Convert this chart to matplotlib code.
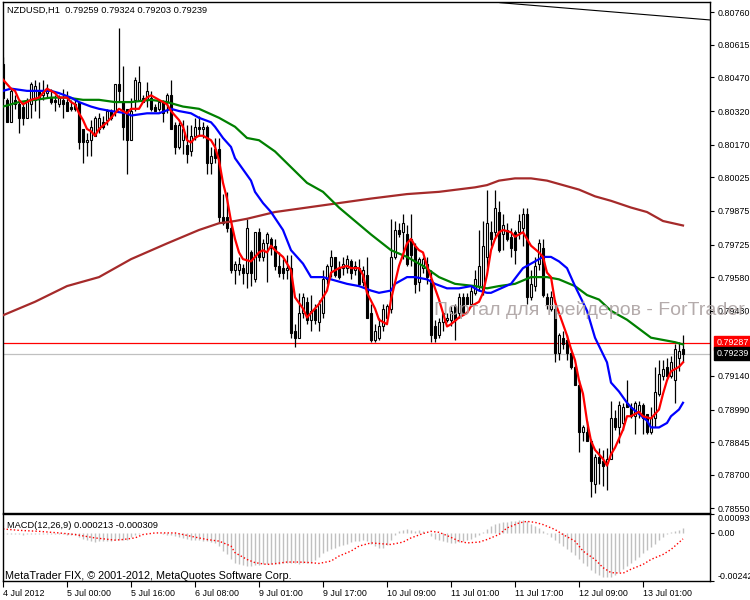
import numpy as np
import matplotlib
matplotlib.use("Agg")
import matplotlib.pyplot as plt
from matplotlib import transforms

plt.rcParams["font.family"] = ["Liberation Sans", "DejaVu Sans"]

# ---- candles (NZDUSD H1) ----
opens = [
    0.8053, 0.8037, 0.8027, 0.8037, 0.8035, 0.8034, 0.8029, 0.8035, 0.8037, 0.8041,
    0.8039, 0.8040, 0.8038, 0.8037, 0.8035, 0.8037, 0.8036, 0.8034, 0.8035, 0.8036,
    0.8024, 0.8018, 0.8019, 0.8021, 0.8024, 0.8027, 0.8028, 0.8032, 0.8032, 0.8044,
    0.8036, 0.8033, 0.8019, 0.8037, 0.8037, 0.8038, 0.8037, 0.8038, 0.8034, 0.8033,
    0.8036, 0.8036, 0.8039, 0.8026, 0.8016, 0.8019, 0.8017, 0.8014, 0.8021, 0.8025,
    0.8024, 0.8025, 0.8009, 0.8015, 0.8015, 0.7985, 0.7985, 0.7980, 0.7961, 0.7961,
    0.7962, 0.7960, 0.7969, 0.7957, 0.7978, 0.7967, 0.7973, 0.7975, 0.7972, 0.7963,
    0.7962, 0.7961, 0.7962, 0.7934, 0.7931, 0.7942, 0.7947, 0.7939, 0.7944, 0.7938,
    0.7942, 0.7957, 0.7963, 0.7967, 0.7962, 0.7962, 0.7962, 0.7965, 0.7961, 0.7962,
    0.7956, 0.7959, 0.7942, 0.7930, 0.7931, 0.7936, 0.7940, 0.7944, 0.7967, 0.7979,
    0.7978, 0.7977, 0.7975, 0.7972, 0.7956, 0.7962, 0.7964, 0.7957, 0.7936, 0.7932,
    0.7938, 0.7939, 0.7939, 0.7945, 0.7942, 0.7949, 0.7949, 0.7946, 0.7951, 0.7954,
    0.7952, 0.7967, 0.7978, 0.7978, 0.7987, 0.7977, 0.7979, 0.7976, 0.7978, 0.7978,
    0.7980, 0.7986, 0.7949, 0.7954, 0.7964, 0.7971, 0.7949, 0.7944, 0.7944, 0.7924,
    0.7931, 0.7930, 0.7924, 0.7918, 0.7910, 0.7889, 0.7889, 0.7885, 0.7866, 0.7878,
    0.7876, 0.7875, 0.7877, 0.7895, 0.7891, 0.7893, 0.7902, 0.7900, 0.7896, 0.7898,
    0.7901, 0.7897, 0.7889, 0.7895, 0.7906, 0.7914, 0.7918, 0.7914, 0.7912, 0.7922,
    0.79259,
]
highs = [
    0.8056, 0.8038, 0.8042, 0.8039, 0.8037, 0.8036, 0.8038, 0.8045, 0.8046, 0.8045,
    0.8046, 0.8044, 0.8042, 0.8039, 0.8039, 0.8042, 0.8041, 0.8037, 0.8038, 0.8036,
    0.8024, 0.8022, 0.8028, 0.8030, 0.8031, 0.8030, 0.8033, 0.8033, 0.8044, 0.8069,
    0.8052, 0.8033, 0.8038, 0.8047, 0.8052, 0.8039, 0.8045, 0.8041, 0.8035, 0.8037,
    0.8037, 0.8040, 0.8046, 0.8027, 0.8027, 0.8028, 0.8026, 0.8026, 0.8029, 0.8030,
    0.8027, 0.8026, 0.8016, 0.8020, 0.8020, 0.7995, 0.7996, 0.7983, 0.7965, 0.7967,
    0.7964, 0.7984, 0.7970, 0.7978, 0.7980, 0.7975, 0.7978, 0.7976, 0.7975, 0.7969,
    0.7966, 0.7968, 0.7968, 0.7937, 0.7951, 0.7951, 0.7949, 0.7950, 0.7946, 0.7948,
    0.7961, 0.7964, 0.7970, 0.7967, 0.7965, 0.7967, 0.7968, 0.7966, 0.7965, 0.7966,
    0.7963, 0.7967, 0.7946, 0.7937, 0.7940, 0.7946, 0.7946, 0.7984, 0.7983, 0.7982,
    0.7986, 0.7981, 0.7986, 0.7973, 0.7967, 0.7967, 0.7967, 0.7961, 0.7939, 0.7940,
    0.7942, 0.7942, 0.7945, 0.7946, 0.7951, 0.7951, 0.7951, 0.7954, 0.7961, 0.7979,
    0.7983, 0.7997, 0.7983, 0.7997, 0.7992, 0.7986, 0.7982, 0.7980, 0.7979, 0.7986,
    0.7989, 0.7989, 0.7961, 0.7967, 0.7975, 0.7975, 0.7951, 0.7952, 0.7948, 0.7933,
    0.7934, 0.7932, 0.7926, 0.7919, 0.7912, 0.7892, 0.7894, 0.7886, 0.7879, 0.7882,
    0.7881, 0.7882, 0.7903, 0.7899, 0.7903, 0.7902, 0.7912, 0.7902, 0.7903, 0.7903,
    0.7902, 0.7897, 0.7900, 0.7918, 0.7921, 0.7921, 0.7922, 0.7923, 0.7928, 0.7929,
    0.79324,
]
lows = [
    0.8038, 0.8027, 0.8027, 0.8033, 0.8022, 0.8026, 0.8029, 0.8029, 0.8032, 0.8029,
    0.8037, 0.8038, 0.8035, 0.8032, 0.8034, 0.8029, 0.8032, 0.8032, 0.8032, 0.8015,
    0.8009, 0.8012, 0.8012, 0.8021, 0.8022, 0.8024, 0.8026, 0.8028, 0.8030, 0.8036,
    0.8019, 0.8004, 0.8019, 0.8032, 0.8037, 0.8036, 0.8034, 0.8032, 0.8032, 0.8032,
    0.8027, 0.8031, 0.8024, 0.8013, 0.8015, 0.8013, 0.8009, 0.8012, 0.8019, 0.8021,
    0.8020, 0.8004, 0.8004, 0.8009, 0.7982, 0.7981, 0.7978, 0.7960, 0.7955, 0.7959,
    0.7955, 0.7953, 0.7954, 0.7956, 0.7965, 0.7965, 0.7956, 0.7968, 0.7961, 0.7958,
    0.7957, 0.7957, 0.7931, 0.7927, 0.7931, 0.7940, 0.7937, 0.7934, 0.7937, 0.7934,
    0.7940, 0.7955, 0.7958, 0.7958, 0.7957, 0.7959, 0.7960, 0.7957, 0.7959, 0.7955,
    0.7954, 0.7940, 0.7929, 0.7929, 0.7930, 0.7934, 0.7940, 0.7942, 0.7966, 0.7976,
    0.7966, 0.7963, 0.7963, 0.7951, 0.7952, 0.7960, 0.7955, 0.7929, 0.7929, 0.7931,
    0.7934, 0.7938, 0.7936, 0.7930, 0.7940, 0.7942, 0.7946, 0.7945, 0.7950, 0.7952,
    0.7950, 0.7961, 0.7972, 0.7976, 0.7969, 0.7970, 0.7974, 0.7967, 0.7964, 0.7975,
    0.7972, 0.7946, 0.7948, 0.7952, 0.7961, 0.7949, 0.7944, 0.7943, 0.7920, 0.7921,
    0.7926, 0.7921, 0.7917, 0.7910, 0.7880, 0.7885, 0.7885, 0.7860, 0.7862, 0.7866,
    0.7865, 0.7863, 0.7877, 0.7890, 0.7884, 0.7890, 0.7900, 0.7895, 0.7888, 0.7895,
    0.7888, 0.7888, 0.7888, 0.7891, 0.7905, 0.7912, 0.7913, 0.7913, 0.7902, 0.7916,
    0.79203,
]
closes = [
    0.8038, 0.8027, 0.8041, 0.8035, 0.8029, 0.8029, 0.8037, 0.8044, 0.8043, 0.8038,
    0.8041, 0.8041, 0.8036, 0.8036, 0.8038, 0.8035, 0.8032, 0.8033, 0.8033, 0.8018,
    0.8018, 0.8019, 0.8025, 0.8029, 0.8029, 0.8025, 0.8032, 0.8029, 0.8044, 0.8041,
    0.8025, 0.8019, 0.8032, 0.8046, 0.8045, 0.8036, 0.8041, 0.8033, 0.8032, 0.8036,
    0.8031, 0.8039, 0.8024, 0.8016, 0.8026, 0.8024, 0.8013, 0.8021, 0.8025, 0.8024,
    0.8025, 0.8009, 0.8012, 0.8011, 0.7985, 0.7982, 0.7980, 0.7961, 0.7964, 0.7964,
    0.7960, 0.7980, 0.7960, 0.7978, 0.7967, 0.7973, 0.7977, 0.7971, 0.7963, 0.7960,
    0.7960, 0.7962, 0.7933, 0.7931, 0.7942, 0.7949, 0.7939, 0.7943, 0.7939, 0.7946,
    0.7957, 0.7963, 0.7967, 0.7959, 0.7958, 0.7964, 0.7966, 0.7960, 0.7963, 0.7955,
    0.7961, 0.7940, 0.7930, 0.7934, 0.7936, 0.7944, 0.7945, 0.7967, 0.7979, 0.7977,
    0.7982, 0.7964, 0.7968, 0.7955, 0.7966, 0.7966, 0.7958, 0.7932, 0.7931, 0.7938,
    0.7942, 0.7940, 0.7943, 0.7939, 0.7949, 0.7942, 0.7946, 0.7952, 0.7957, 0.7963,
    0.7972, 0.7982, 0.7975, 0.7989, 0.7970, 0.7981, 0.7975, 0.7971, 0.7970, 0.7983,
    0.7986, 0.7949, 0.7955, 0.7963, 0.7973, 0.7950, 0.7946, 0.7949, 0.7924, 0.7932,
    0.7928, 0.7924, 0.7918, 0.7910, 0.7889, 0.7891, 0.7885, 0.7867, 0.7878, 0.7875,
    0.7874, 0.7877, 0.7895, 0.7891, 0.7901, 0.7900, 0.7900, 0.7896, 0.7902, 0.7901,
    0.7895, 0.7889, 0.7895, 0.7907, 0.7915, 0.7917, 0.7914, 0.7920, 0.7926, 0.7925,
    0.79239,
]

# ---- moving averages (bar index, price) ----
red_bars = [0, 2, 3, 4, 5, 6, 7, 9, 10, 11,
            13, 14, 16, 17, 18, 19, 20, 21, 22, 23,
            24, 26, 27, 29, 30, 31, 32, 34, 35, 36,
            37, 38, 40, 41, 42, 44, 45, 46, 47, 48,
            49, 50, 52, 53, 54, 55, 56, 57, 58, 59,
            60, 62, 63, 64, 65, 66, 67, 68, 70, 72,
            73, 75, 76, 77, 79, 81, 82, 84, 86, 87,
            89, 90, 91, 93, 94, 96, 97, 99, 100, 101,
            102, 103, 104, 105, 106, 107, 109, 110, 111, 112,
            114, 116, 117, 119, 120, 121, 122, 123, 124, 125,
            127, 128, 130, 132, 134, 135, 136, 137, 138, 139,
            140, 141, 142, 143, 144, 145, 146, 147, 148, 150,
            151, 152, 153, 155, 156, 157, 159, 160, 162, 164,
            165, 166, 167, 169, 170]
red_ma = [0.8046, 0.8042, 0.8041, 0.8037, 0.8035, 0.8036, 0.8037, 0.8038, 0.8040, 0.8042,
          0.8040, 0.8038, 0.8038, 0.8036, 0.8035, 0.8031, 0.8028, 0.8024, 0.8023, 0.8021,
          0.8024, 0.8027, 0.8029, 0.8033, 0.8032, 0.8031, 0.8033, 0.8033, 0.8036, 0.8038,
          0.8039, 0.8038, 0.8036, 0.8035, 0.8032, 0.8028, 0.8025, 0.8019, 0.8018, 0.8020,
          0.8021, 0.8021, 0.8019, 0.8016, 0.8010, 0.8000, 0.7993, 0.7983, 0.7975, 0.7969,
          0.7966, 0.7965, 0.7967, 0.7969, 0.7970, 0.7969, 0.7972, 0.7970, 0.7967, 0.7961,
          0.7949, 0.7944, 0.7940, 0.7942, 0.7946, 0.7952, 0.7960, 0.7962, 0.7963, 0.7962,
          0.7962, 0.7959, 0.7951, 0.7944, 0.7939, 0.7937, 0.7948, 0.7963, 0.7968, 0.7973,
          0.7975, 0.7972, 0.7970, 0.7969, 0.7963, 0.7958, 0.7948, 0.7942, 0.7936, 0.7937,
          0.7940, 0.7942, 0.7945, 0.7947, 0.7951, 0.7959, 0.7970, 0.7975, 0.7978, 0.7979,
          0.7978, 0.7976, 0.7978, 0.7972, 0.7969, 0.7967, 0.7960, 0.7958, 0.7947, 0.7942,
          0.7937, 0.7932, 0.7926, 0.7921, 0.7912, 0.7906, 0.7894, 0.7885, 0.7881, 0.7877,
          0.7874, 0.7879, 0.7882, 0.7890, 0.7896, 0.7896, 0.7898, 0.7896, 0.7895, 0.7899,
          0.7906, 0.7912, 0.7916, 0.7918, 0.7920]

blue_bars = [0, 2, 6, 9, 12, 14, 17, 19, 22, 24,
             27, 31, 32, 36, 39, 42, 44, 47, 49, 52,
             53, 55, 57, 58, 60, 62, 63, 65, 67, 70,
             72, 75, 77, 80, 82, 86, 89, 92, 94, 97,
             98, 101, 103, 106, 108, 111, 114, 117, 119, 121,
             122, 127, 130, 132, 135, 137, 139, 141, 143, 146,
             148, 151, 152, 154, 156, 157, 159, 161, 162, 164,
             166, 167, 169, 170]
blue_ma = [0.8041, 0.8042, 0.8041, 0.8041, 0.8041, 0.8040, 0.8038, 0.8036, 0.8034, 0.8033,
           0.8032, 0.8031, 0.8030, 0.8031, 0.8031, 0.8033, 0.8032, 0.8031, 0.8029, 0.8027,
           0.8025, 0.8020, 0.8016, 0.8011, 0.8006, 0.8001, 0.7996, 0.7991, 0.7987, 0.7979,
           0.7970, 0.7964, 0.7958, 0.7958, 0.7957, 0.7955, 0.7954, 0.7952, 0.7951, 0.7952,
           0.7955, 0.7958, 0.7958, 0.7957, 0.7955, 0.7953, 0.7953, 0.7954, 0.7952, 0.7951,
           0.7951, 0.7955, 0.7962, 0.7964, 0.7967, 0.7967, 0.7965, 0.7962, 0.7954, 0.7943,
           0.7931, 0.7920, 0.7911, 0.7907, 0.7902, 0.7900, 0.7897, 0.7894, 0.7891, 0.7891,
           0.7893, 0.7896, 0.7899, 0.7902]

green_bars = [0, 4, 8, 12, 16, 20, 24, 28, 32, 37,
              41, 45, 49, 54, 58, 61, 64, 68, 72, 76,
              80, 84, 88, 92, 97, 101, 105, 109, 113, 118,
              121, 124, 128, 132, 136, 139, 143, 146, 149, 152,
              156, 159, 162, 165, 168, 170]
green_ma = [0.8034, 0.8036, 0.8037, 0.8038, 0.8038, 0.8037, 0.8037, 0.8036, 0.8036, 0.8037,
            0.8036, 0.8034, 0.8033, 0.8029, 0.8025, 0.8020, 0.8019, 0.8014, 0.8007, 0.8000,
            0.7996, 0.7989, 0.7983, 0.7977, 0.7970, 0.7967, 0.7963, 0.7958, 0.7955, 0.7954,
            0.7953, 0.7954, 0.7955, 0.7958, 0.7958, 0.7957, 0.7954, 0.7950, 0.7948, 0.7943,
            0.7939, 0.7935, 0.7931, 0.7930, 0.7929, 0.7928]

brown_bars = [0, 8, 16, 24, 32, 41, 49, 54, 58, 61,
              68, 76, 84, 92, 101, 109, 118, 121, 124, 128,
              132, 136, 140, 144, 148, 152, 157, 161, 165, 170]
brown_ma = [0.7941, 0.7947, 0.7954, 0.7958, 0.7966, 0.7973, 0.7979, 0.7982, 0.7983, 0.7984,
            0.7987, 0.7989, 0.7991, 0.7993, 0.7995, 0.7996, 0.7998, 0.7999, 0.8001, 0.8002,
            0.8002, 0.8001, 0.7999, 0.7997, 0.7994, 0.7992, 0.7989, 0.7987, 0.7983, 0.7981]

trend_bars = [124.25, 176.75]
trend_prices = [0.80803, 0.80726]

ask_price = 0.79287
bid_price = 0.79239

# ---- MACD(12,26,9) ----
macd = [
    -0.00005, -0.00006, -0.00005, -0.00007, -0.00008, -0.00009, -0.00008, -0.00006, -0.00005, -0.00006,
    -0.00005, -0.00004, -0.00006, -0.00007, -0.00007, -0.00008, -0.00009, -0.00010, -0.00011, -0.00020,
    -0.00030, -0.00038, -0.00042, -0.00044, -0.00043, -0.00042, -0.00040, -0.00040, -0.00036, -0.00034,
    -0.00036, -0.00034, -0.00021, -0.00009, -0.00005, -0.00003, 0.00000, -0.00002, -0.00003, -0.00003,
    -0.00005, -0.00010, -0.00010, -0.00015, -0.00020, -0.00025, -0.00030, -0.00035, -0.00035, -0.00037,
    -0.00039, -0.00042, -0.00045, -0.00050, -0.00067, -0.00092, -0.00109, -0.00134, -0.00150, -0.00159,
    -0.00164, -0.00167, -0.00167, -0.00164, -0.00162, -0.00159, -0.00158, -0.00157, -0.00156, -0.00155,
    -0.00154, -0.00150, -0.00151, -0.00153, -0.00155, -0.00154, -0.00152, -0.00150, -0.00137, -0.00120,
    -0.00104, -0.00092, -0.00084, -0.00076, -0.00067, -0.00061, -0.00054, -0.00047, -0.00042, -0.00041,
    -0.00037, -0.00042, -0.00054, -0.00067, -0.00076, -0.00076, -0.00064, -0.00034, -0.00009, 0.00007,
    0.00016, 0.00019, 0.00016, 0.00007, 0.00012, 0.00007, -0.00001, -0.00017, -0.00031, -0.00037,
    -0.00042, -0.00047, -0.00051, -0.00051, -0.00047, -0.00042, -0.00037, -0.00031, -0.00021, -0.00009,
    0.00004, 0.00019, 0.00032, 0.00046, 0.00049, 0.00052, 0.00056, 0.00057, 0.00061, 0.00062,
    0.00066, 0.00057, 0.00046, 0.00032, 0.00022, 0.00007, -0.00004, -0.00021, -0.00037, -0.00051,
    -0.00067, -0.00081, -0.00097, -0.00114, -0.00134, -0.00150, -0.00167, -0.00187, -0.00203, -0.00213,
    -0.00220, -0.00222, -0.00220, -0.00210, -0.00197, -0.00183, -0.00167, -0.00150, -0.00137, -0.00120,
    -0.00104, -0.00087, -0.00071, -0.00054, -0.00037, -0.00021, -0.00007, 0.00002, 0.00007, 0.00016,
    0.000213,
]
signal_bars = [0, 4, 9, 14, 18, 23, 28, 30, 33, 35,
               38, 43, 45, 48, 51, 54, 57, 58, 61, 63,
               66, 68, 71, 74, 77, 79, 82, 84, 87, 89,
               92, 97, 100, 102, 105, 107, 109, 111, 114, 116,
               119, 121, 124, 126, 129, 131, 133, 135, 138, 140,
               143, 145, 148, 150, 152, 155, 157, 160, 162, 165,
               167, 170]
signal = [0.00019, 0.00012, 0.00007, -0.00001, -0.00009, -0.00026, -0.00037, -0.00034, -0.00026, -0.00009,
          -0.00001, -0.00001, -0.00009, -0.00022, -0.00034, -0.00042, -0.00067, -0.00100, -0.00134, -0.00150,
          -0.00159, -0.00155, -0.00147, -0.00147, -0.00150, -0.00154, -0.00142, -0.00117, -0.00092, -0.00067,
          -0.00051, -0.00059, -0.00047, -0.00026, -0.00004, 0.00007, 0.00002, -0.00014, -0.00042, -0.00051,
          -0.00047, -0.00034, -0.00009, 0.00024, 0.00049, 0.00057, 0.00052, 0.00041, 0.00016, -0.00009,
          -0.00042, -0.00092, -0.00134, -0.00175, -0.00200, -0.00203, -0.00183, -0.00159, -0.00134, -0.00109,
          -0.00084, -0.000309]

# ---- axis labels ----
price_ticks = [0.80760, 0.80615, 0.80470, 0.80320, 0.80170, 0.80025, 0.79875, 0.79725,
               0.79580, 0.79430, 0.79140, 0.78990, 0.78845, 0.78700, 0.78550]
time_ticks = [0, 16, 32, 48, 64, 80, 96, 112, 128, 144, 160]
time_labels = ["4 Jul 2012", "5 Jul 00:00", "5 Jul 16:00", "6 Jul 08:00", "9 Jul 01:00",
               "9 Jul 17:00", "10 Jul 09:00", "11 Jul 01:00", "11 Jul 17:00",
               "12 Jul 09:00", "13 Jul 01:00"]
macd_ticks = [0.000939, 0.0, -0.00242]
macd_tick_labels = ["0.000939", "0.00", "-0.00242"]

W, H = 750, 600
fig = plt.figure(figsize=(W / 100, H / 100), dpi=100, facecolor="white")
ax = fig.add_axes([2.5 / W, 1 - 512.5 / H, 708 / W, 510.5 / H])
ax2 = fig.add_axes([2.5 / W, 1 - 581 / H, 708 / W, 67 / H])

o = np.array(opens)
h = np.array(highs)
l = np.array(lows)
c = np.array(closes)
x = np.arange(len(c))
up = c >= o
body_lo = np.minimum(o, c)
body_h = np.maximum(np.abs(c - o), 0.00002)

# wicks then bodies (white = bull, black = bear)
ax.vlines(x, l, h, color="black", lw=0.9, zorder=2)
ax.bar(x[up], body_h[up], bottom=body_lo[up], width=0.62, color="white",
       edgecolor="black", lw=0.8, zorder=3)
ax.bar(x[~up], body_h[~up], bottom=body_lo[~up], width=0.62, color="black",
       edgecolor="black", lw=0.8, zorder=3)

ax.plot(brown_bars, brown_ma, color="#a52a2a", lw=1.6, zorder=4)
ax.plot(green_bars, green_ma, color="#008000", lw=1.6, zorder=4)
ax.plot(blue_bars, blue_ma, color="#0000ff", lw=1.6, zorder=4)
ax.plot(red_bars, red_ma, color="#ff0000", lw=1.6, zorder=5)
ax.plot(trend_bars, trend_prices, color="black", lw=0.8, zorder=4)

ax.axhline(ask_price, color="#ff0000", lw=0.9, zorder=1)
ax.axhline(bid_price, color="#c0c0c0", lw=0.9, zorder=1)

ax.set_xlim(-0.125, 176.875)
ax.set_ylim(0.78531, 0.80806)
ax.set_xticks([])
ax.yaxis.tick_right()
ax.set_yticks(price_ticks)
ax.set_yticklabels([f"{v:.5f}" for v in price_ticks])
ax.tick_params(axis="y", direction="out", length=3, width=0.8, pad=2, labelsize=6.4)

blend = transforms.blended_transform_factory(ax.transAxes, ax.transData)
ax.text(1.008, ask_price, f"{ask_price:.5f}", transform=blend, ha="left", va="center",
        fontsize=6.4, color="white", zorder=10, clip_on=False,
        bbox=dict(boxstyle="square,pad=0.25", fc="#ff0000", ec="#ff0000"))
ax.text(1.008, bid_price, f"{bid_price:.5f}", transform=blend, ha="left", va="center",
        fontsize=6.4, color="white", zorder=10, clip_on=False,
        bbox=dict(boxstyle="square,pad=0.25", fc="black", ec="black"))

# MACD panel
ax2.vlines(x, 0, macd, color="#c0c0c0", lw=1)
ax2.plot(signal_bars, signal, color="#ff0000", lw=1, ls=(0, (1, 1.6)))
ax2.set_xlim(-0.125, 176.875)
ax2.set_ylim(-0.00242, 0.000939)
ax2.yaxis.tick_right()
ax2.set_yticks(macd_ticks)
ax2.set_yticklabels(macd_tick_labels)
ax2.tick_params(axis="y", direction="out", length=3, width=0.8, pad=2, labelsize=6.4)
labs = ax2.get_yticklabels()
labs[0].set_va("top")
labs[2].set_va("bottom")
ax2.set_xticks(time_ticks)
ax2.set_xticklabels(time_labels, ha="left")
ax2.tick_params(axis="x", direction="out", length=4, width=0.8, pad=1.5, labelsize=6.4)

for a in (ax, ax2):
    for s in a.spines.values():
        s.set_color("black")
        s.set_linewidth(1.0)

fig.text(7 / W, 1 - 10.5 / H, "NZDUSD,H1  0.79259 0.79324 0.79203 0.79239",
         fontsize=6.7, va="center", ha="left")
fig.text(7 / W, 1 - 525 / H, "MACD(12,26,9) 0.000213 -0.000309",
         fontsize=6.7, va="center", ha="left")
fig.text(5 / W, 1 - 576 / H, "MetaTrader FIX, © 2001-2012, MetaQuotes Software Corp.",
         fontsize=7.8, va="center", ha="left")
fig.text(434 / W, 1 - 310 / H, "Портал для трейдеров - ForTrader.ru",
         fontsize=14, va="center", ha="left", color="#aca2a2", alpha=0.9)

fig.savefig("out.png", dpi=100, facecolor="white")
